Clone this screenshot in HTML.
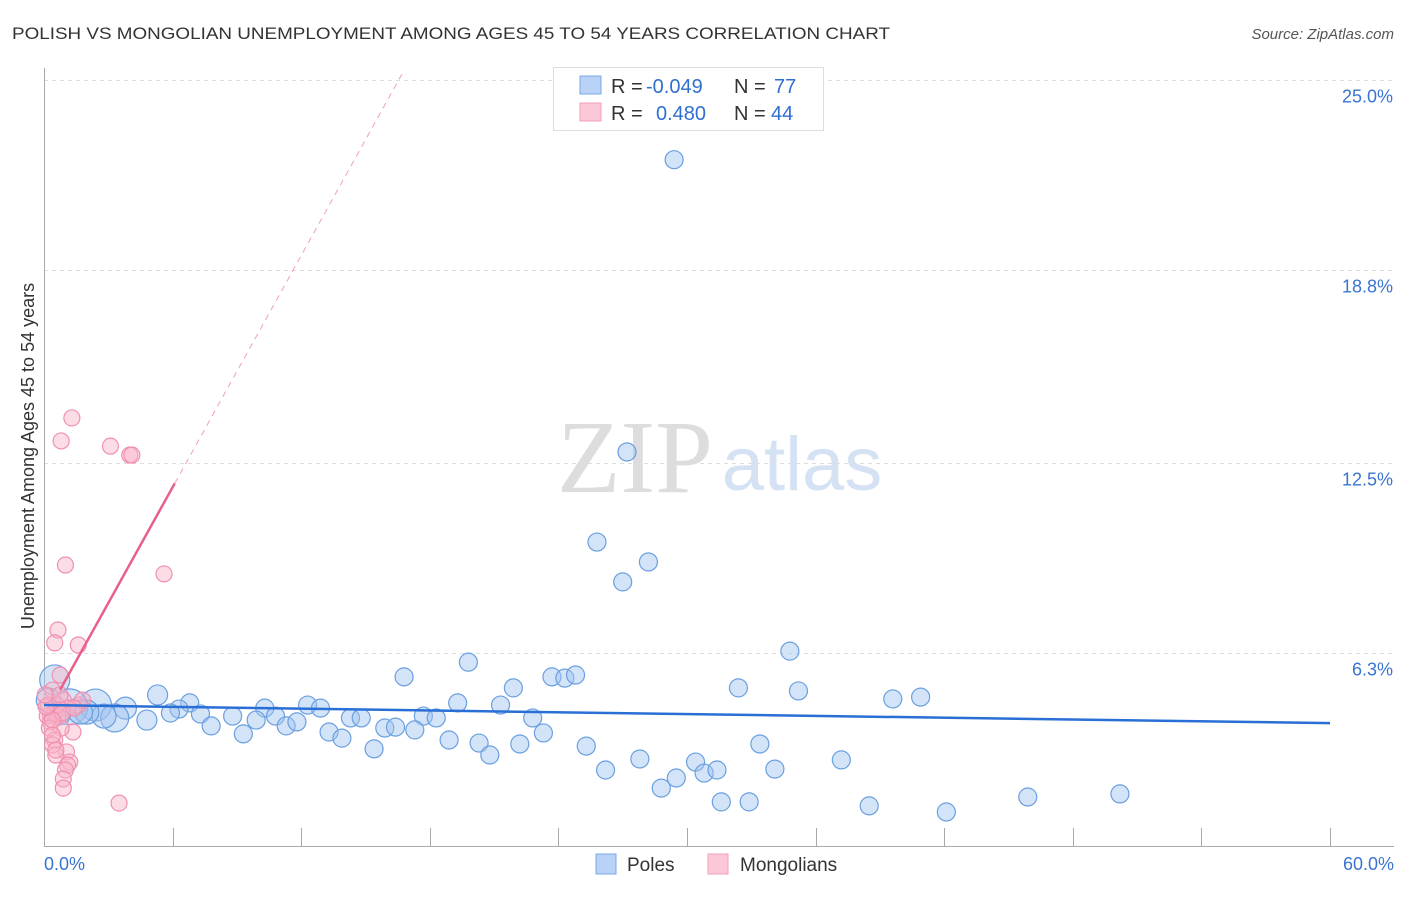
<!DOCTYPE html>
<html><head><meta charset="utf-8"><style>
body{margin:0;background:#fff;font-family:"Liberation Sans",sans-serif}
svg text{font-family:"Liberation Sans",sans-serif}
</style></head><body>
<svg id="c" width="1406" height="892" xmlns="http://www.w3.org/2000/svg">
<text x="12" y="39" font-size="17" fill="#333" textLength="878" lengthAdjust="spacingAndGlyphs">POLISH VS MONGOLIAN UNEMPLOYMENT AMONG AGES 45 TO 54 YEARS CORRELATION CHART</text>
<text x="1394" y="39" font-size="15" fill="#555" font-style="italic" text-anchor="end">Source: ZipAtlas.com</text>
<g>
<text x="635" y="492" font-size="104" fill="#ddd" text-anchor="middle" style="font-family:'Liberation Serif',serif">ZIP</text>
<text x="802" y="490" font-size="76" fill="#d4e2f4" text-anchor="middle">atlas</text>
</g>
<g id="grid"></g>
<g id="axes"></g>
<g id="marks"></g>
<text transform="translate(34,456) rotate(-90)" font-size="18" fill="#333" text-anchor="middle">Unemployment Among Ages 45 to 54 years</text>
<g>
<rect x="553.500" y="67.500" width="270" height="63" fill="#fff" stroke="#ddd"/>
<rect x="580" y="76" width="21" height="18" fill="#b8d3f5" stroke="#7aaae8"/>
<rect x="580" y="103" width="21" height="18" fill="#fcc8d8" stroke="#f0a0b8"/>
<text x="611" y="93" font-size="20" fill="#333">R = <tspan x="646" fill="#2f6fd0">-0.049</tspan><tspan x="734">N = </tspan><tspan x="774" fill="#2f6fd0">77</tspan></text>
<text x="611" y="120" font-size="20" fill="#333">R = <tspan x="656" fill="#2f6fd0">0.480</tspan><tspan x="734">N = </tspan><tspan x="771" fill="#2f6fd0">44</tspan></text>
</g>
<g>
<rect x="596" y="854" width="20" height="20" fill="#b8d3f5" stroke="#7aaae8"/>
<text x="627" y="871" font-size="19" fill="#333">Poles</text>
<rect x="708" y="854" width="20" height="20" fill="#fcc8d8" stroke="#f0a0b8"/>
<text x="740" y="871" font-size="19" fill="#333">Mongolians</text>
</g>
</svg>
<script>
const xTickLabels=["0.0%","60.0%"];
const yTicks=[6.3,12.5,18.8,25.0];
const yTickLabels=["6.3%","12.5%","18.8%","25.0%"];
const polesX=[29.4,27.2,25.8,28.2,27.0,34.8,19.8,16.8,23.7,24.3,24.8,21.9,32.4,35.2,39.6,40.9,5.3,6.8,19.3,21.3,12.3,12.9,10.3,3.8,6.3,2.4,1.2,0.5,5.9,7.3,8.8,10.8,4.8,3.3,2.8,2.0,7.8,9.9,11.3,11.8,14.3,14.8,17.7,18.3,22.8,13.3,13.9,15.9,16.4,17.3,9.3,23.3,15.4,18.9,20.3,22.2,25.3,20.8,27.8,30.4,33.4,37.2,26.2,29.5,30.8,31.4,34.1,28.8,31.6,32.9,38.5,42.1,45.9,50.2,0.7,0.2,1.7];
const polesY=[22.4,12.86,9.92,9.27,8.62,6.36,6.0,5.52,5.52,5.48,5.58,5.16,5.16,5.06,4.8,4.86,4.93,4.67,4.67,4.6,4.6,4.5,4.5,4.5,4.47,4.6,4.54,5.42,4.34,4.31,4.24,4.24,4.11,4.18,4.24,4.37,3.92,4.11,3.92,4.05,4.18,4.18,4.24,4.18,4.18,3.72,3.52,3.85,3.88,3.79,3.66,3.69,3.17,3.46,3.36,3.33,3.26,2.97,2.84,2.74,3.33,2.81,2.48,2.22,2.38,2.48,2.51,1.89,1.44,1.44,1.31,1.11,1.6,1.7,4.34,4.76,4.37];
const polesSize=[9,9,9,9,9,9,9,9,9,9,9,9,9,9,9,9,10,9,9,9,9,9,9,11,9,16,18,15,9,9,9,9,10,14,12,12,9,9,9,9,9,9,9,9,9,9,9,9,9,9,9,9,9,9,9,9,9,9,9,9,9,9,9,9,9,9,9,9,9,9,9,9,9,9,12,12,12];
const mongX=[1.3,0.8,3.1,4.0,4.1,1.0,5.6,0.65,0.5,1.6,0.75,0.4,0.9,1.6,0.5,0.3,1.1,0.15,0.65,0.3,1.35,0.25,0.8,0.5,0.4,1.05,0.55,1.2,1.1,1.0,0.9,0.9,3.5,1.8,0.2,0.6,0.85,0.4,0.1,1.4,0.75,0.4,0.05,0.55];
const mongY=[13.97,13.22,13.05,12.76,12.76,9.17,8.88,7.05,6.63,6.56,5.58,5.09,4.76,4.6,4.37,4.28,4.5,4.24,4.24,4.05,3.72,3.85,3.85,3.46,3.3,3.07,2.97,2.74,2.64,2.48,2.19,1.89,1.4,4.76,4.6,4.6,4.34,4.11,4.54,4.5,4.93,3.62,4.93,3.13];
const polesTrend=[4.6,4.01];
const mongTrend={slope:1.26,intercept:4.15,solidEnd:6.1};
const NS="http://www.w3.org/2000/svg";
const sx=v=>44+v*(1286/60), sy=v=>846-v*30.64;
function mk(tag,attrs,parent){const e=document.createElementNS(NS,tag);for(const k in attrs)e.setAttribute(k,attrs[k]);parent.appendChild(e);return e;}
const grid=document.getElementById('grid'),axes=document.getElementById('axes'),marks=document.getElementById('marks');
yTicks.forEach((t,i)=>{
  const y=Math.round(sy(t))+0.5;
  const l=mk('line',{x1:44,x2:1394,y1:y,y2:y,stroke:'#ddd','stroke-dasharray':'4,4'},grid);
  
  
  const tx=mk('text',{x:1393,y:y+22,'font-size':18,fill:'#3a74d2','text-anchor':'end'},axes);
  tx.textContent=yTickLabels[i];
  
  
});
const ya=mk('line',{x1:44.5,x2:44.5,y1:68,y2:846,stroke:'#aaa'},axes);


const xa=mk('line',{x1:44,x2:1394,y1:846.5,y2:846.5,stroke:'#aaa'},axes);


for(let v=6;v<=60;v+=6){const x=Math.round(sx(v))+0.5;
  const t=mk('line',{x1:x,x2:x,y1:828,y2:846,stroke:'#aaa'},axes);
  
  }
[[0,'start',44],[60,'end',1394]].forEach((d,i)=>{
  const t=mk('text',{x:d[2],y:870,'font-size':18,fill:'#3a74d2','text-anchor':d[1]},axes);
  t.textContent=xTickLabels[i];
  
  });
polesX.forEach((x,i)=>{
  const c=mk('circle',{cx:sx(x),cy:sy(polesY[i]),r:polesSize[i],fill:'rgba(160,196,240,0.45)',stroke:'#6a9fe0','stroke-width':1.2},marks);
  
  });
mongX.forEach((x,i)=>{
  const c=mk('circle',{cx:sx(x),cy:sy(mongY[i]),r:8,fill:'rgba(248,180,200,0.45)',stroke:'#f090b0','stroke-width':1.2},marks);
  
  });
const bl=mk('line',{x1:sx(0),y1:sy(polesTrend[0]),x2:sx(60),y2:sy(polesTrend[1]),stroke:'#2a6fd6','stroke-width':2.5},marks);


const mf=x=>mongTrend.intercept+mongTrend.slope*x;
const x0=0.75,xe=(25.2-mongTrend.intercept)/mongTrend.slope;
const pl=mk('line',{x1:sx(x0),y1:sy(mf(x0)),x2:sx(mongTrend.solidEnd),y2:sy(mf(mongTrend.solidEnd)),stroke:'#e8608a','stroke-width':2.5},marks);


const pd=mk('line',{x1:sx(mongTrend.solidEnd),y1:sy(mf(mongTrend.solidEnd)),x2:sx(xe),y2:sy(mf(xe)),stroke:'#f0a0b8','stroke-width':1,'stroke-dasharray':'6,5'},marks);


</script>
</body></html>
